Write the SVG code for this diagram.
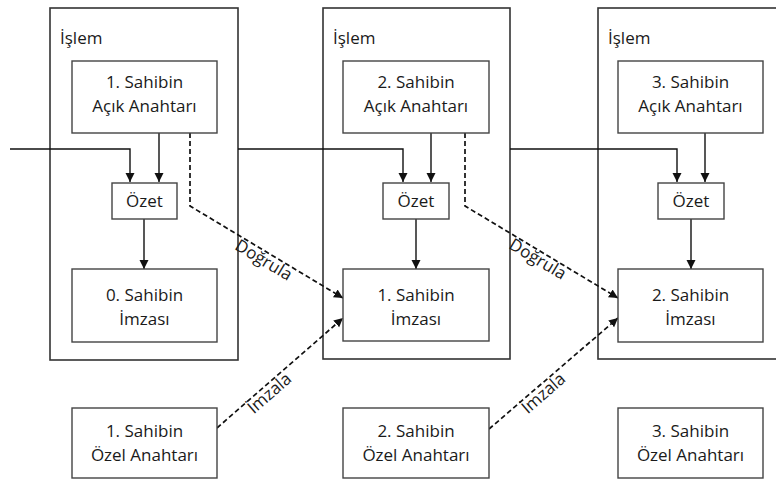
<svg xmlns="http://www.w3.org/2000/svg" width="776" height="480" viewBox="0 0 776 480">
<defs>
<marker id="ah" viewBox="0 0 10 10" refX="10" refY="5" markerWidth="9" markerHeight="10" markerUnits="userSpaceOnUse" orient="auto">
<path d="M0,0 L10,5 L0,10 Z" fill="#111"/>
</marker>
</defs>
<style>
.cont{fill:none;stroke:#333;stroke-width:1.6}
.box{fill:#fff;stroke:#444;stroke-width:1.4}
.t{font-family:"Open Sans",Lato,sans-serif;font-size:17px;fill:#1a1a1a;text-anchor:middle}
.tl{font-family:"Open Sans",Lato,sans-serif;font-size:17px;fill:#1a1a1a}
.ln{fill:none;stroke:#111;stroke-width:1.4}
.dl{fill:none;stroke:#111;stroke-width:1.7;stroke-dasharray:5 3}
</style>
<rect width="776" height="480" fill="#fff"/>
<g id="islem1"><rect class="cont" x="50" y="8" width="188" height="352"/><text class="tl" x="60" y="44">İşlem</text></g>
<g id="islem2"><rect class="cont" x="323" y="8" width="187" height="351"/><text class="tl" x="333" y="44">İşlem</text></g>
<g id="islem3"><rect class="cont" x="598" y="8" width="190" height="351"/><text class="tl" x="608" y="44">İşlem</text></g>
<g id="connectors">
<path class="ln" d="M10,149 H130 V182" marker-end="url(#ah)"/>
<path class="ln" d="M238,149 H403 V182" marker-end="url(#ah)"/>
<path class="ln" d="M510,149 H677 V182" marker-end="url(#ah)"/>
<path class="ln" d="M159,133 V182" marker-end="url(#ah)"/>
<path class="ln" d="M431,133 V182" marker-end="url(#ah)"/>
<path class="ln" d="M705,133 V182" marker-end="url(#ah)"/>
<path class="ln" d="M144,219 V269" marker-end="url(#ah)"/>
<path class="ln" d="M416,219 V269" marker-end="url(#ah)"/>
<path class="ln" d="M691,219 V269" marker-end="url(#ah)"/>
<path class="dl" d="M190,133 V206 L343,298" marker-end="url(#ah)"/>
<path class="dl" d="M465,133 V206 L618,298" marker-end="url(#ah)"/>
<path class="dl" d="M217,428 L343,318" marker-end="url(#ah)"/>
<path class="dl" d="M489,429 L618,318" marker-end="url(#ah)"/>
<text class="t" transform="translate(268,253) rotate(31)" x="0" y="14">Doğrula</text>
<text class="t" transform="translate(542,252) rotate(31)" x="0" y="14">Doğrula</text>
<text class="t" transform="translate(264,387) rotate(-41)" x="0" y="14">İmzala</text>
<text class="t" transform="translate(538,387) rotate(-41)" x="0" y="14">İmzala</text>
</g>
<g id="acik1"><rect class="box" x="72" y="61" width="145" height="72"/><text class="t" x="144.5" y="88">1. Sahibin</text><text class="t" x="144.5" y="112">Açık Anahtarı</text></g>
<g id="acik2"><rect class="box" x="343" y="61" width="146" height="72"/><text class="t" x="416" y="88">2. Sahibin</text><text class="t" x="416" y="112">Açık Anahtarı</text></g>
<g id="acik3"><rect class="box" x="618" y="61" width="145" height="72"/><text class="t" x="690.5" y="88">3. Sahibin</text><text class="t" x="690.5" y="112">Açık Anahtarı</text></g>
<g id="ozet1"><rect class="box" x="112" y="183" width="65" height="36"/><text class="t" x="144.5" y="207">Özet</text></g>
<g id="ozet2"><rect class="box" x="383" y="183" width="66" height="36"/><text class="t" x="416" y="207">Özet</text></g>
<g id="ozet3"><rect class="box" x="658" y="183" width="66" height="36"/><text class="t" x="691" y="207">Özet</text></g>
<g id="imza0"><rect class="box" x="72" y="269" width="145" height="73"/><text class="t" x="144.5" y="301">0. Sahibin</text><text class="t" x="144.5" y="325">İmzası</text></g>
<g id="imza1"><rect class="box" x="343" y="269" width="146" height="72"/><text class="t" x="416" y="301">1. Sahibin</text><text class="t" x="416" y="325">İmzası</text></g>
<g id="imza2"><rect class="box" x="618" y="269" width="145" height="73"/><text class="t" x="690.5" y="301">2. Sahibin</text><text class="t" x="690.5" y="325">İmzası</text></g>
<g id="ozel1"><rect class="box" x="72" y="408" width="145" height="70"/><text class="t" x="144.5" y="437">1. Sahibin</text><text class="t" x="144.5" y="461">Özel Anahtarı</text></g>
<g id="ozel2"><rect class="box" x="343" y="408" width="146" height="70"/><text class="t" x="416" y="437">2. Sahibin</text><text class="t" x="416" y="461">Özel Anahtarı</text></g>
<g id="ozel3"><rect class="box" x="618" y="408" width="145" height="70"/><text class="t" x="690.5" y="437">3. Sahibin</text><text class="t" x="690.5" y="461">Özel Anahtarı</text></g>
</svg>
